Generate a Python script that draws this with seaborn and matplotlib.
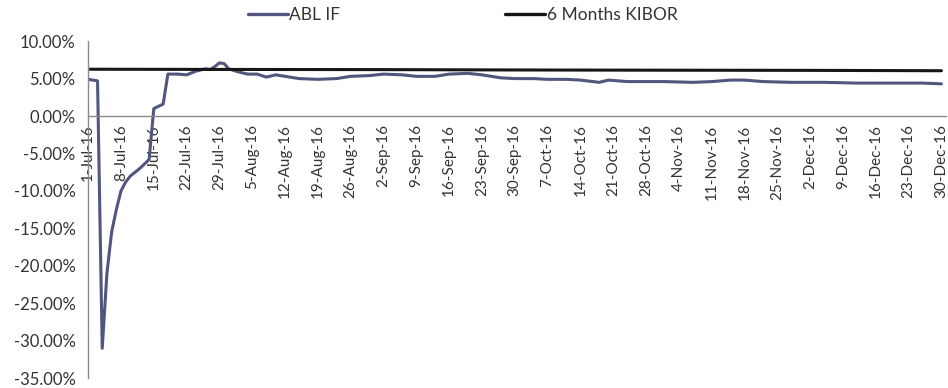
import pandas as pd
import matplotlib.pyplot as plt
import matplotlib.ticker as mticker
import seaborn as sns

# ABL IF return (%)
abl_dates = ['2016-07-01', '2016-07-02', '2016-07-03', '2016-07-04', '2016-07-05', '2016-07-06',
             '2016-07-07', '2016-07-08', '2016-07-09', '2016-07-10', '2016-07-11', '2016-07-12',
             '2016-07-13', '2016-07-14', '2016-07-15', '2016-07-16', '2016-07-17', '2016-07-18',
             '2016-07-20', '2016-07-22', '2016-07-24', '2016-07-26', '2016-07-27', '2016-07-28',
             '2016-07-29', '2016-07-30', '2016-07-31', '2016-08-02', '2016-08-04', '2016-08-06',
             '2016-08-08', '2016-08-10', '2016-08-12', '2016-08-15', '2016-08-19', '2016-08-23',
             '2016-08-26', '2016-08-30', '2016-09-02', '2016-09-06', '2016-09-09', '2016-09-13',
             '2016-09-16', '2016-09-20', '2016-09-23', '2016-09-27', '2016-09-30', '2016-10-04',
             '2016-10-07', '2016-10-11', '2016-10-14', '2016-10-18', '2016-10-20', '2016-10-24',
             '2016-10-28', '2016-11-01', '2016-11-07', '2016-11-11', '2016-11-15', '2016-11-18',
             '2016-11-22', '2016-11-28', '2016-12-05', '2016-12-12', '2016-12-19', '2016-12-26',
             '2016-12-30']
abl_values = [4.9, 4.8, 4.7, -31.0, -21.0, -15.5,
              -12.5, -10.0, -8.8, -8.0, -7.5, -7.0,
              -6.4, -5.8, 1.0, 1.3, 1.6, 5.6,
              5.6, 5.5, 6.0, 6.3, 6.2, 6.6,
              7.1, 7.0, 6.3, 5.9, 5.6, 5.6,
              5.2, 5.5, 5.3, 5.0, 4.9, 5.0,
              5.3, 5.4, 5.6, 5.5, 5.3, 5.3,
              5.6, 5.7, 5.5, 5.1, 5.0, 5.0,
              4.9, 4.9, 4.8, 4.5, 4.8, 4.6,
              4.6, 4.6, 4.5, 4.6, 4.8, 4.8,
              4.6, 4.5, 4.5, 4.4, 4.4, 4.4,
              4.3]

# 6 Months KIBOR (%)
kibor_dates = ['2016-07-01', '2016-08-01', '2016-09-01', '2016-10-01', '2016-11-01',
               '2016-12-01', '2016-12-30']
kibor_values = [6.25, 6.22, 6.2, 6.15, 6.12, 6.1, 6.05]

series_names = ['ABL IF', '6 Months KIBOR']
series_colors = ['#50567e', '#161616']

df = pd.concat([
    pd.DataFrame({'date': pd.to_datetime(abl_dates), 'value': abl_values, 'series': series_names[0]}),
    pd.DataFrame({'date': pd.to_datetime(kibor_dates), 'value': kibor_values, 'series': series_names[1]}),
])

sns.set_style('white')
plt.rcParams['font.family'] = ['Lato', 'DejaVu Sans']

fig = plt.figure(figsize=(9.48, 3.88), dpi=100)
ax = fig.add_axes([0.093, 0.025, 0.905, 0.869])

sns.lineplot(data=df, x='date', y='value', hue='series', hue_order=series_names,
             palette=series_colors, linewidth=2.2, ax=ax, legend=False, sort=True)

ax.set_ylim(-35, 10)
ax.set_xlim(pd.Timestamp('2016-07-01'), pd.Timestamp('2016-12-31'))
ax.yaxis.set_major_locator(mticker.MultipleLocator(5))
ax.yaxis.set_major_formatter(mticker.FuncFormatter(lambda v, p: f'{v:.2f}%'))

ticks = pd.date_range('2016-07-01', '2016-12-30', freq='7D')
tick_labels = [f'{d.day}-{d.strftime("%b")}-{d.strftime("%y")}' for d in ticks]
ax.set_xticks(ticks)
ax.set_xticklabels(tick_labels)

ax.spines['bottom'].set_position(('data', 0))
ax.spines['top'].set_visible(False)
ax.spines['right'].set_visible(False)
for s in ['bottom', 'left']:
    ax.spines[s].set_color('#8a8a8a')
    ax.spines[s].set_linewidth(1.0)

ax.tick_params(axis='x', direction='out', length=4, color='#8a8a8a', pad=2,
               labelrotation=90, labelsize=11, labelcolor='#333333')
ax.tick_params(axis='y', direction='out', length=5, color='#8a8a8a', pad=4,
               labelsize=12, labelcolor='#333333')
ax.set_xlabel('')
ax.set_ylabel('')

handles = [plt.Line2D([], [], color=c, linewidth=2.4) for c in series_colors]
fig.legend(handles, series_names, loc='center', bbox_to_anchor=(0.488, 0.962),
           ncol=2, frameon=False, fontsize=12.5, handlelength=2.3, handletextpad=0.1,
           columnspacing=9.5, labelcolor='#333333')

fig.savefig('out.png', dpi=100)
